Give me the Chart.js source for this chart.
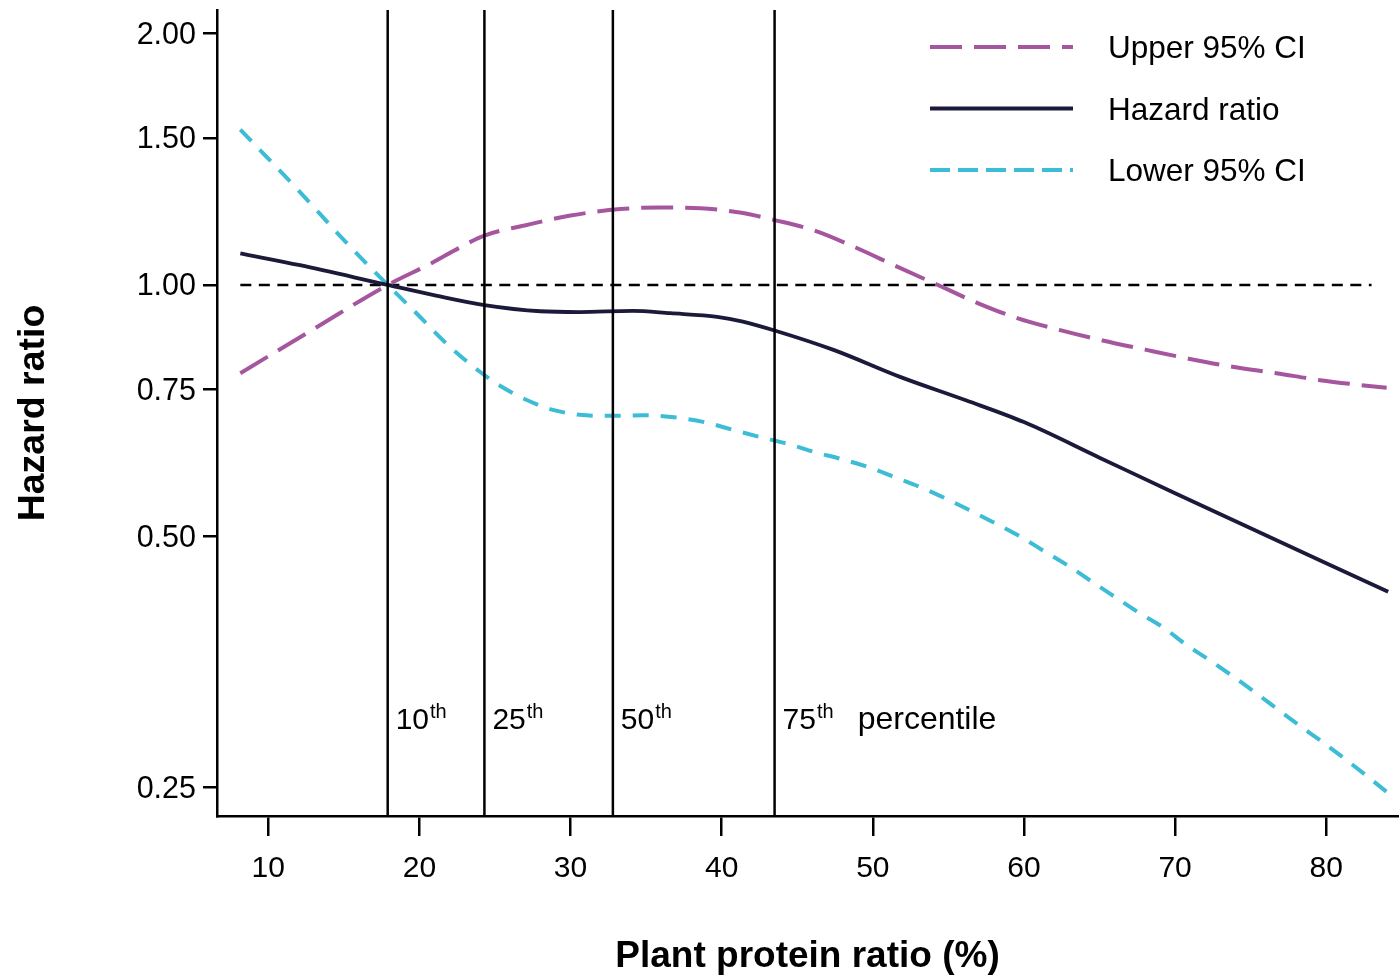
<!DOCTYPE html>
<html>
<head>
<meta charset="utf-8">
<script src="https://cdn.jsdelivr.net/npm/chart.js@4.4.1/dist/chart.umd.min.js"></script>
<style>
  html, body { margin: 0; padding: 0; background: #ffffff; }
  #wrap { width: 1399px; height: 975px; position: relative; }
</style>
</head>
<body>
<div id="wrap"><canvas id="c"></canvas></div>
<script>
// ---- data ----
const xTicks = [10, 20, 30, 40, 50, 60, 70, 80];
const yTicks = [0.25, 0.50, 0.75, 1.00, 1.50, 2.00];
const percentiles = [17.9, 24.3, 32.8, 43.5];
const percentileLabels = ['10', '25', '50', '75'];
const seriesNames = ['Upper 95% CI', 'Hazard ratio', 'Lower 95% CI'];

const hrX = [8.15, 12.1, 17.9, 21.1, 24.3, 28.0, 30.6, 34.1, 36.6, 39.7, 41.4, 43.5, 47.4, 51.8, 56.2, 60.0, 65.0, 70.0, 75.0, 80.0, 84.1];
const hrY = [1.091, 1.056, 1.000, 0.971, 0.946, 0.930, 0.928, 0.931, 0.925, 0.916, 0.904, 0.882, 0.836, 0.776, 0.727, 0.685, 0.621, 0.563, 0.511, 0.464, 0.429];

const upperX = [8.15, 13.2, 17.9, 20.8, 22.6, 24.3, 27.1, 30.0, 33.3, 35.9, 38.6, 41.2, 43.5, 46.2, 48.9, 51.5, 54.2, 56.9, 59.6, 62.4, 65.2, 68.1, 70.9, 73.8, 76.7, 79.6, 82.5, 84.0];
const upperY = [0.784, 0.890, 1.000, 1.062, 1.107, 1.146, 1.180, 1.211, 1.233, 1.238, 1.236, 1.221, 1.196, 1.161, 1.108, 1.054, 1.002, 0.952, 0.912, 0.883, 0.858, 0.836, 0.816, 0.798, 0.784, 0.769, 0.758, 0.753];

const lowerX = [8.15, 12.1, 14.9, 17.9, 19.8, 21.9, 24.0, 25.5, 27.1, 28.9, 30.6, 32.5, 34.8, 37.2, 39.0, 40.8, 42.6, 44.4, 46.1, 48.0, 49.7, 51.5, 53.2, 54.9, 56.6, 58.2, 59.8, 61.4, 63.0, 64.5, 66.1, 67.6, 69.2, 70.7, 72.3, 73.8, 75.3, 76.8, 78.3, 79.8, 81.3, 82.7, 84.0];
const lowerY = [1.535, 1.292, 1.137, 1.000, 0.925, 0.847, 0.787, 0.754, 0.728, 0.708, 0.699, 0.697, 0.698, 0.693, 0.684, 0.670, 0.657, 0.645, 0.631, 0.618, 0.605, 0.588, 0.572, 0.554, 0.535, 0.517, 0.499, 0.479, 0.460, 0.441, 0.422, 0.405, 0.389, 0.371, 0.355, 0.340, 0.325, 0.310, 0.296, 0.283, 0.270, 0.258, 0.247];

const refLineX = [8.15, 83.0];
const refLineY = [1.0, 1.0];

// ---- axis ranges ----
const X_MIN = 6.606, X_MAX = 84.75;
const Y_MIN = 0.2311, Y_MAX = 2.135;
const LABEL_Y = 0.2935;

const FONT = '"Liberation Sans", Arial, Helvetica, sans-serif';
const C_UPPER = '#a5569e';
const C_HR = '#1b1a3a';
const C_LOWER = '#3dbcd6';

const pts = (xs, ys) => xs.map((v, i) => ({ x: v, y: ys[i] }));

const curveDatasets = [
  { label: seriesNames[0], data: pts(upperX, upperY), borderColor: C_UPPER, borderWidth: 4, borderDash: [32, 12], legendDash: [32, 12], order: 2 },
  { label: seriesNames[1], data: pts(hrX, hrY), borderColor: C_HR, borderWidth: 3.8, borderDash: [], legendDash: [], order: 2 },
  { label: seriesNames[2], data: pts(lowerX, lowerY), borderColor: C_LOWER, borderWidth: 4, borderDash: [16, 12], legendDash: [20, 8], order: 2 }
];

const vlineDatasets = percentiles.map(p => ({
  label: 'p' + p, data: [{ x: p, y: Y_MIN }, { x: p, y: Y_MAX }],
  borderColor: '#000', borderWidth: 2.5, order: 0, isAux: true
}));

const refDataset = {
  label: 'ref', data: pts(refLineX, refLineY), borderColor: '#000', borderWidth: 2.5,
  borderDash: [11, 7.5], order: 3, isAux: true
};

const overlay = {
  id: 'overlay',
  afterDatasetsDraw(chart) {
    const { ctx, scales: { x, y } } = chart;
    ctx.save();
    // percentile labels
    const base = y.getPixelForValue(LABEL_Y);
    ctx.fillStyle = '#000';
    ctx.textAlign = 'left';
    ctx.textBaseline = 'alphabetic';
    let endX = 0;
    percentiles.forEach((p, i) => {
      const px = x.getPixelForValue(p) + 8;
      ctx.font = '30px ' + FONT;
      ctx.fillText(percentileLabels[i], px, base);
      const w = ctx.measureText(percentileLabels[i]).width;
      ctx.font = '20px ' + FONT;
      ctx.fillText('th', px + w + 1, base - 11);
      endX = px + w + 1 + ctx.measureText('th').width;
    });
    ctx.font = '32px ' + FONT;
    ctx.fillText('percentile', endX + 24, base);

    // legend
    const lx0 = 930, lx1 = 1073, tx = 1108, ly0 = 47, dy = 61.5;
    curveDatasets.forEach((ds, i) => {
      const yy = ly0 + dy * i;
      ctx.beginPath();
      ctx.setLineDash(ds.legendDash);
      ctx.lineCap = 'butt';
      ctx.lineWidth = 4;
      ctx.strokeStyle = ds.borderColor;
      ctx.moveTo(lx0, yy);
      ctx.lineTo(lx1, yy);
      ctx.stroke();
      ctx.setLineDash([]);
      ctx.font = '31.5px ' + FONT;
      ctx.fillStyle = '#000';
      ctx.fillText(ds.label, tx, yy + 11);
    });
    ctx.restore();
  }
};

new Chart(document.getElementById('c'), {
  type: 'line',
  data: { datasets: [...vlineDatasets, ...curveDatasets, refDataset] },
  options: {
    responsive: true,
    maintainAspectRatio: false,
    animation: false,
    layout: { padding: { left: 0, top: 10, right: 1, bottom: 0 } },
    elements: {
      point: { radius: 0, hoverRadius: 0 },
      line: { fill: false, cubicInterpolationMode: 'monotone', borderCapStyle: 'butt' }
    },
    plugins: { legend: { display: false }, tooltip: { enabled: false }, title: { display: false } },
    scales: {
      x: {
        type: 'linear',
        min: X_MIN, max: X_MAX,
        afterFit(s) { s.height = 159; s.paddingLeft = 0; s.paddingRight = 0; },
        afterBuildTicks(s) { s.ticks = xTicks.map(v => ({ value: v })); },
        grid: { display: true, drawOnChartArea: false, drawTicks: true, tickLength: 20, color: '#000', lineWidth: 2.5 },
        border: { display: true, color: '#000', width: 2.5 },
        ticks: { color: '#000', font: { family: FONT, size: 30 }, padding: 15, maxRotation: 0, autoSkip: false, callback: v => String(v) },
        title: { display: true, text: 'Plant protein ratio (%)', color: '#000', font: { family: FONT, size: 37, weight: 'bold', lineHeight: 1.0 }, padding: { top: 0, bottom: 0 } }
      },
      y: {
        type: 'logarithmic',
        min: Y_MIN, max: Y_MAX,
        afterFit(s) { s.width = 217; s.paddingTop = 0; s.paddingBottom = 0; },
        afterBuildTicks(s) { s.ticks = yTicks.map(v => ({ value: v })); },
        grid: { display: true, drawOnChartArea: false, drawTicks: true, tickLength: 14, color: '#000', lineWidth: 2.5 },
        border: { display: true, color: '#000', width: 2.5 },
        ticks: { color: '#000', font: { family: FONT, size: 30.5 }, padding: 7, labelOffset: 2, autoSkip: false, callback: v => Number(v).toFixed(2) },
        title: { display: true, text: 'Hazard ratio', color: '#000', font: { family: FONT, size: 37.5, weight: 'bold', lineHeight: 1.2 }, padding: { top: 11, bottom: 0 } }
      }
    }
  },
  plugins: [overlay]
});
</script>
</body>
</html>
